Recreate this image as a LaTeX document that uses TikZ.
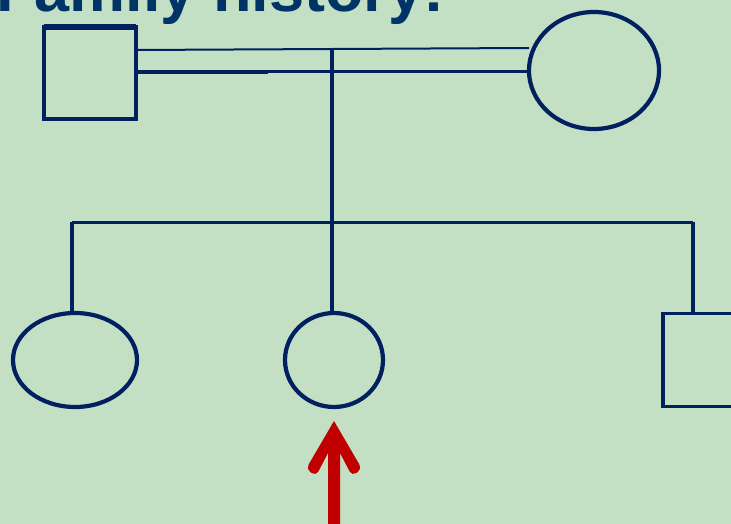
\documentclass[tikz,border=0pt]{standalone}
\usepackage{fontspec}
\setmainfont{Liberation Sans}
\usetikzlibrary{shapes.geometric}
\definecolor{bg}{RGB}{195,224,196}
\definecolor{navy}{RGB}{0,32,96}
\definecolor{titleblue}{RGB}{0,51,102}
\definecolor{arrowred}{RGB}{192,0,0}
\begin{document}
\begin{tikzpicture}[x=1pt,y=-1pt,
  person/.style={draw=navy, line width=3.5pt, inner sep=0pt, outer sep=0pt},
  male/.style={person, rectangle},
  female/.style={person, ellipse, line width=4.2pt},
  thinlink/.style={draw=navy, line width=2pt},
  link/.style={draw=navy, line width=3pt},
  droplink/.style={draw=navy, line width=4pt},
  pointer/.style={fill=arrowred},
  ]
\useasboundingbox (0,0) rectangle (731,524);
\clip (0,0) rectangle (731,524);
\fill[bg] (0,0) rectangle (731,524);

\node[anchor=base west, inner sep=0pt, text=titleblue,
      font=\bfseries\fontsize{63}{63}\selectfont] (title) at (-4,11.5) {Family history:};

% people
\node[male, minimum width=92, minimum height=92] (father) at (90,73) {};
\node[female, minimum width=130, minimum height=117] (mother) at (594,70.5) {};
\node[female, minimum width=124, minimum height=94] (sis) at (75,360) {};
\node[female, minimum width=98, minimum height=94] (proband) at (334,360) {};
\node[male, minimum width=92, minimum height=93] (bro) at (709,360) {};

\draw[navy, line width=5.5pt] (father.north west) -- (father.north east);

% marriage lines
\coordinate (top) at (332,50);
\coordinate (sibM) at (332,222);
\coordinate (sibL) at (72,222);
\coordinate (sibR) at (693,222);
\coordinate (thick) at (268,72);

\draw[thinlink] (father.east |- 0,50) -- (mother.west |- 0,48);
\draw[link] (father.east |- 0,72) -- (mother.west |- 0,72);
\draw[droplink] (father.east |- 0,72) -- (thick);

% descent
\draw[droplink] (top) -- (sibM);
\draw[link] (sibL) -- (sibR);
\draw[droplink] (sibL) -- (sibL |- sis.north);
\draw[droplink] (sibM) -- (sibM |- proband.north);
\draw[droplink] (sibR) -- (sibR |- bro.north);

% proband arrow
\coordinate (atip) at (334,421);
\coordinate (atail) at (334,530);
\fill[pointer] (atip) [rounded corners=5pt] -- (362,469) -- (352,476) [sharp corners] -- (340,453)
  -- (atail -| 340,0) -- (atail -| 328,0) -- (328,453) [rounded corners=5pt] -- (316,476) -- (306,469)
  [sharp corners] -- cycle;
\end{tikzpicture}
\end{document}
